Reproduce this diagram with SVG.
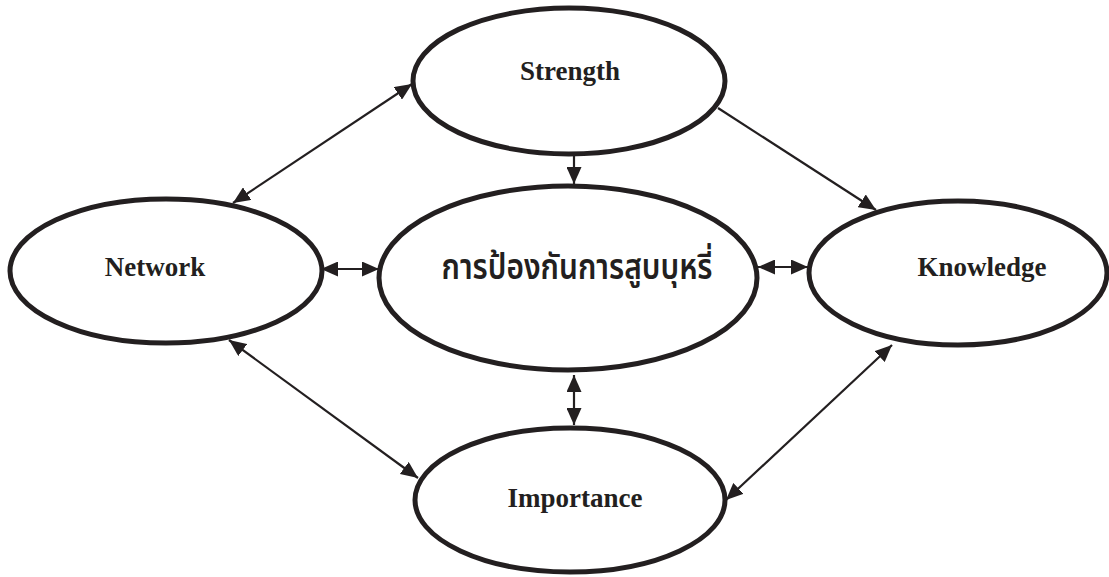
<svg xmlns="http://www.w3.org/2000/svg" width="1109" height="577" viewBox="0 0 1109 577">
<style>
.node{fill:#fff;stroke:#231f20;stroke-width:5}
.lbl{font-family:"Liberation Serif","Times New Roman",serif;font-weight:bold;font-size:27px;fill:#231f20;text-anchor:middle}
.thai{font-family:"Noto Sans Thai","Noto Sans Thai Looped","Noto Sans","DejaVu Sans",sans-serif;font-size:35px;font-weight:600;fill:#231f20;text-anchor:middle}
.conn line{stroke:#231f20;stroke-width:2.2}
</style>
<defs>
<marker id="ah" markerUnits="userSpaceOnUse" markerWidth="18" markerHeight="15" refX="17" refY="7.5" orient="auto-start-reverse">
<path d="M0,0 L17,7.5 L0,15 Z" fill="#231f20"/>
</marker>
</defs>
<g id="connectors" class="conn">
<line x1="233" y1="203" x2="412" y2="84" marker-start="url(#ah)" marker-end="url(#ah)"/>
<line x1="718" y1="108" x2="876" y2="210" marker-end="url(#ah)"/>
<line x1="574" y1="155" x2="574" y2="184" marker-end="url(#ah)"/>
<line x1="321" y1="269" x2="379" y2="269" marker-start="url(#ah)" marker-end="url(#ah)"/>
<line x1="758" y1="267" x2="808" y2="267" marker-start="url(#ah)" marker-end="url(#ah)"/>
<line x1="574" y1="375" x2="574" y2="425" marker-start="url(#ah)" marker-end="url(#ah)"/>
<line x1="229" y1="340" x2="418" y2="478" marker-start="url(#ah)" marker-end="url(#ah)"/>
<line x1="892" y1="345" x2="726" y2="500" marker-start="url(#ah)" marker-end="url(#ah)"/>
</g>
<g id="strength">
<ellipse class="node" cx="569" cy="81" rx="156" ry="73"/>
<text class="lbl" x="570" y="80">Strength</text>
</g>
<g id="network">
<ellipse class="node" cx="166" cy="271" rx="156" ry="72"/>
<text class="lbl" x="155" y="276">Network</text>
</g>
<g id="center">
<ellipse class="node" cx="568" cy="278" rx="189" ry="92"/>
<text class="thai" x="577" y="279" textLength="271" lengthAdjust="spacingAndGlyphs">การป้องกันการสูบบุหรี่</text>
</g>
<g id="knowledge">
<ellipse class="node" cx="958" cy="273" rx="149" ry="72"/>
<text class="lbl" x="982" y="276">Knowledge</text>
</g>
<g id="importance">
<ellipse class="node" cx="570" cy="500" rx="155" ry="72"/>
<text class="lbl" x="575" y="507">Importance</text>
</g>
</svg>
